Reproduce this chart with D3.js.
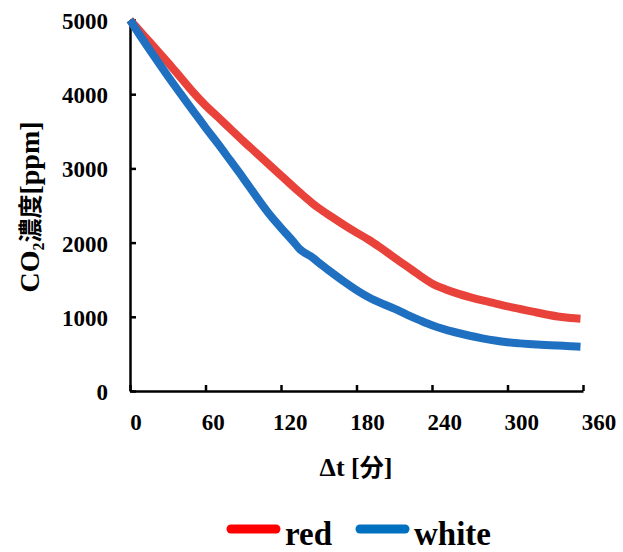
<!DOCTYPE html>
<html><head><meta charset="utf-8">
<script src="https://cdn.jsdelivr.net/npm/d3@7"></script>
<style>
html,body{margin:0;padding:0;background:#fff;}
text{font-family:"Liberation Serif","Times New Roman",serif;font-weight:bold;fill:#000;}
</style></head>
<body>
<svg id="chart" width="623" height="552"></svg>
<script>
const time = [0,10,20,30,40,50,60,70,80,90,100,110,120,130,135,140,145,150,160,170,180,190,200,210,220,230,240,250,260,270,280,290,300,310,320,330,340,350,358];
const redValues = [5000,4810,4620,4430,4230,4030,3850,3690,3530,3370,3215,3060,2905,2750,2675,2600,2530,2465,2350,2240,2135,2035,1920,1800,1680,1560,1450,1375,1315,1265,1220,1180,1140,1105,1070,1035,1005,985,975];
const whiteValues = [5000,4740,4490,4245,4010,3780,3550,3330,3100,2870,2630,2400,2200,2010,1910,1850,1800,1730,1600,1475,1360,1260,1180,1110,1030,955,885,830,785,745,710,680,657,642,630,620,612,604,597];
const xTicks = [0,60,120,180,240,300,360];
const yTicks = [0,1000,2000,3000,4000,5000];
const seriesNames = ["red","white"];
const lineColors = ["#e8423a","#1f70c1"];
const legendColors = ["#ff0000","#0070c0"];

const svg = d3.select("#chart");
const x = d3.scaleLinear().domain([0,360]).range([130,583]);
const xLab = d3.scaleLinear().domain([0,360]).range([136,599]);
const y = d3.scaleLinear().domain([0,5000]).range([391,20]);

// axes
const gx = svg.append("g").attr("transform","translate(0,391)")
  .call(d3.axisBottom(x).tickValues(xTicks).tickSizeInner(-6).tickSizeOuter(0).tickFormat(""));
const gy = svg.append("g").attr("transform","translate(130,0)")
  .call(d3.axisLeft(y).tickValues(yTicks).tickSizeInner(-6).tickSizeOuter(0).tickFormat(""));
[gx,gy].forEach(g=>{g.select(".domain").attr("stroke","#000").attr("stroke-width",2.5);
  g.selectAll(".tick line").attr("stroke","#000").attr("stroke-width",2.5);});

svg.append("g").selectAll("text").data(xTicks).join("text")
  .attr("x",d=>xLab(d)).attr("y",430).attr("text-anchor","middle")
  .style("font-size","23px").text(d=>d);
svg.append("g").selectAll("text").data(yTicks).join("text")
  .attr("x",108).attr("y",d=>y(d)+9).attr("text-anchor","end")
  .style("font-size","23px").text(d=>d);

// lines
const series = [redValues, whiteValues];
const line = d3.line().x((d,i)=>x(time[i])).y(d=>y(d)).curve(d3.curveMonotoneX);
series.forEach((vals,k)=>{
  svg.append("path").datum(vals).attr("d",line).attr("fill","none")
    .attr("stroke",lineColors[k]).attr("stroke-width",8).attr("stroke-linejoin","round");
});

// axis titles
const xt = svg.append("text").attr("x",356).attr("y",476).attr("text-anchor","middle").style("font-size","26px");
xt.append("tspan").text("Δt [");
xt.append("tspan").style("font-family","'Noto Sans CJK JP'").style("font-size","24px").text("分");
xt.append("tspan").text("]");

const yt = svg.append("text").attr("transform","translate(39,207) rotate(-90)").attr("text-anchor","middle").style("font-size","28px");
yt.append("tspan").text("CO");
yt.append("tspan").style("font-size","16px").attr("dy",5).text("2");
yt.append("tspan").attr("dy",-5).style("font-family","'Noto Sans CJK JP'").style("font-size","24px").text("濃度");
yt.append("tspan").text("[ppm]");

// legend
const legX = [231,360];
seriesNames.forEach((n,k)=>{
  svg.append("line").attr("x1",legX[k]).attr("x2",legX[k]+45).attr("y1",529).attr("y2",529)
    .attr("stroke",legendColors[k]).attr("stroke-width",9).attr("stroke-linecap","round");
  svg.append("text").attr("x",legX[k]+54).attr("y",545).style("font-size","33px").text(n);
});
</script>
</body></html>
